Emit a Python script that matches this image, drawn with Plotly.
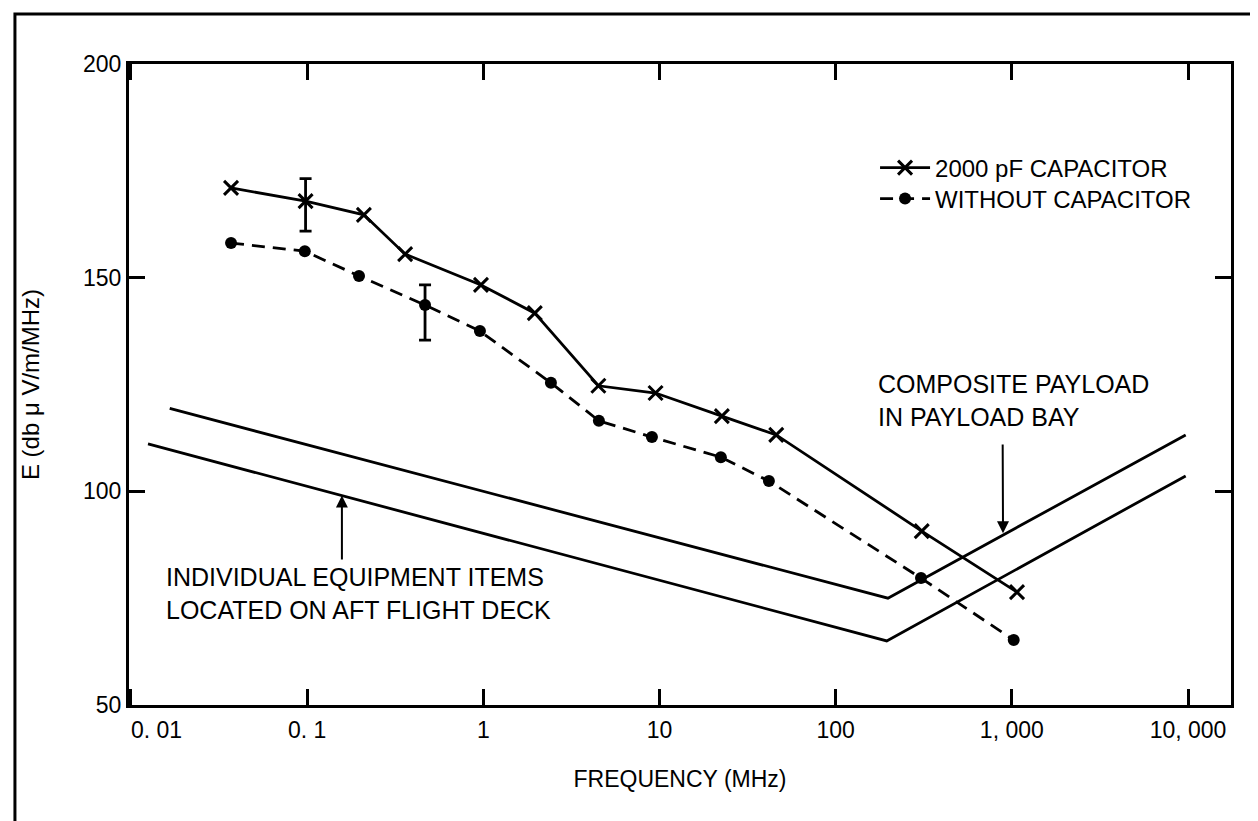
import plotly.graph_objects as go

# ---- data ----
freq_cap = [0.037, 0.098, 0.21, 0.36, 0.97, 1.96, 4.5, 9.5, 22.6, 46, 308, 1070]
e_cap = [171.0, 167.9, 164.7, 155.5, 148.3, 141.7, 124.7, 123.0, 117.6, 113.2, 90.7, 76.4]

freq_nocap = [0.037, 0.097, 0.197, 0.467, 0.957, 2.42, 4.53, 9.06, 22.3, 41.8, 305, 1025]
e_nocap = [158.1, 156.2, 150.4, 143.6, 137.5, 125.4, 116.5, 112.7, 108.0, 102.4, 79.7, 65.2]

# error bars (one point per series)
err_cap_idx = 1
err_cap_plus, err_cap_minus = 5.3, 7.0
err_nocap_idx = 3
err_nocap_plus, err_nocap_minus = 4.7, 8.2

# limit curves
freq_composite = [0.0166, 198, 9700]
e_composite = [119.4, 75.0, 113.2]
freq_individual = [0.0125, 195, 9700]
e_individual = [111.1, 65.0, 103.6]

x_tickvals = [0.01, 0.1, 1, 10, 100, 1000, 10000]
x_ticktext = ["\u00a0" * 8 + "0. 01", "0. 1", "1", "10", "100", "1, 000", "10, 000"]
y_tickvals = [50, 100, 150, 200]

FONT = "Liberation Sans, Arial, sans-serif"
BLACK = "#000000"

fig = go.Figure()

# limit curves
fig.add_trace(go.Scatter(x=freq_composite, y=e_composite, mode="lines",
                         line=dict(color=BLACK, width=2.8), showlegend=False,
                         name="Composite payload in payload bay"))
fig.add_trace(go.Scatter(x=freq_individual, y=e_individual, mode="lines",
                         line=dict(color=BLACK, width=2.8), showlegend=False,
                         name="Individual equipment items located on aft flight deck"))

# data series
fig.add_trace(go.Scatter(x=freq_cap, y=e_cap, mode="lines+markers",
                         name="2000 pF CAPACITOR", legend="legend",
                         line=dict(color=BLACK, width=2.8),
                         marker=dict(symbol="x-thin", size=14,
                                     line=dict(color=BLACK, width=3))))
fig.add_trace(go.Scatter(x=freq_nocap, y=e_nocap, mode="lines+markers",
                         name="WITHOUT CAPACITOR", legend="legend2",
                         line=dict(color=BLACK, width=2.8, dash="13px,8px"),
                         marker=dict(symbol="circle", size=12, color=BLACK)))

# error bars
fig.add_trace(go.Scatter(x=[freq_cap[err_cap_idx]], y=[e_cap[err_cap_idx]], mode="markers",
                         marker=dict(size=1, color="rgba(0,0,0,0)"), showlegend=False,
                         hoverinfo="skip",
                         error_y=dict(type="data", symmetric=False, array=[err_cap_plus],
                                      arrayminus=[err_cap_minus], color=BLACK,
                                      thickness=2.8, width=6)))
fig.add_trace(go.Scatter(x=[freq_nocap[err_nocap_idx]], y=[e_nocap[err_nocap_idx]], mode="markers",
                         marker=dict(size=1, color="rgba(0,0,0,0)"), showlegend=False,
                         hoverinfo="skip",
                         error_y=dict(type="data", symmetric=False, array=[err_nocap_plus],
                                      arrayminus=[err_nocap_minus], color=BLACK,
                                      thickness=2.8, width=6)))

axis_common = dict(showline=True, linecolor=BLACK, linewidth=3, mirror="ticks",
                   ticks="inside", ticklen=16, tickwidth=2.5, tickcolor=BLACK,
                   showgrid=False, zeroline=False,
                   tickfont=dict(family=FONT, size=23, color=BLACK))

fig.update_xaxes(type="log", range=[-2.011, 4.244], tickvals=x_tickvals,
                 ticktext=x_ticktext, ticklabelstandoff=2,
                 title=dict(text="FREQUENCY (MHz)", font=dict(family=FONT, size=23, color=BLACK),
                            standoff=30),
                 **axis_common)
fig.update_yaxes(range=[50, 200], tickvals=y_tickvals,
                 title=dict(text="E (db \u03bc V/m/MHz)", font=dict(family=FONT, size=24, color=BLACK),
                            standoff=37),
                 **axis_common)

# annotations
fig.add_annotation(x=-1.812, y=76.0, xref="x", yref="y", xanchor="left", yanchor="middle",
                   align="left", showarrow=False,
                   text="INDIVIDUAL EQUIPMENT ITEMS<br>LOCATED ON AFT FLIGHT DECK",
                   font=dict(family=FONT, size=25, color=BLACK))
fig.add_annotation(x=2.227, y=121.2, xref="x", yref="y", xanchor="left", yanchor="middle",
                   align="left", showarrow=False,
                   text="COMPOSITE PAYLOAD<br>IN PAYLOAD BAY",
                   font=dict(family=FONT, size=25, color=BLACK))
# arrows
fig.add_annotation(x=-0.8025, y=99.0, ax=-0.8025, ay=83.7, xref="x", yref="y",
                   axref="x", ayref="y", text="", showarrow=True, arrowhead=2,
                   arrowsize=1.2, arrowwidth=2, arrowcolor=BLACK)
fig.add_annotation(x=2.95, y=90.2, ax=2.948, ay=111.3, xref="x", yref="y",
                   axref="x", ayref="y", text="", showarrow=True, arrowhead=2,
                   arrowsize=1.2, arrowwidth=2, arrowcolor=BLACK)

# outer border (figure frame)
fig.add_shape(type="path", xref="paper", yref="paper",
              path="M 0.72,-0.189 L 1.027,-0.189 L 1.027,1.078 L -0.1035,1.078 L -0.1035,-0.189",
              line=dict(color=BLACK, width=3))

legend_common = dict(xanchor="left", yanchor="middle", bgcolor="rgba(0,0,0,0)",
                     borderwidth=0, font=dict(family=FONT, size=24, color=BLACK),
                     itemwidth=50)

fig.update_layout(
    width=1258, height=821, autosize=False,
    margin=dict(l=121, r=35, t=56, b=124),
    paper_bgcolor="white", plot_bgcolor="white",
    font=dict(family=FONT, color=BLACK),
    legend=dict(x=0.677, y=0.8378, **legend_common),
    legend2=dict(x=0.677, y=0.7894, **legend_common),
)

fig.write_html("out.html")
